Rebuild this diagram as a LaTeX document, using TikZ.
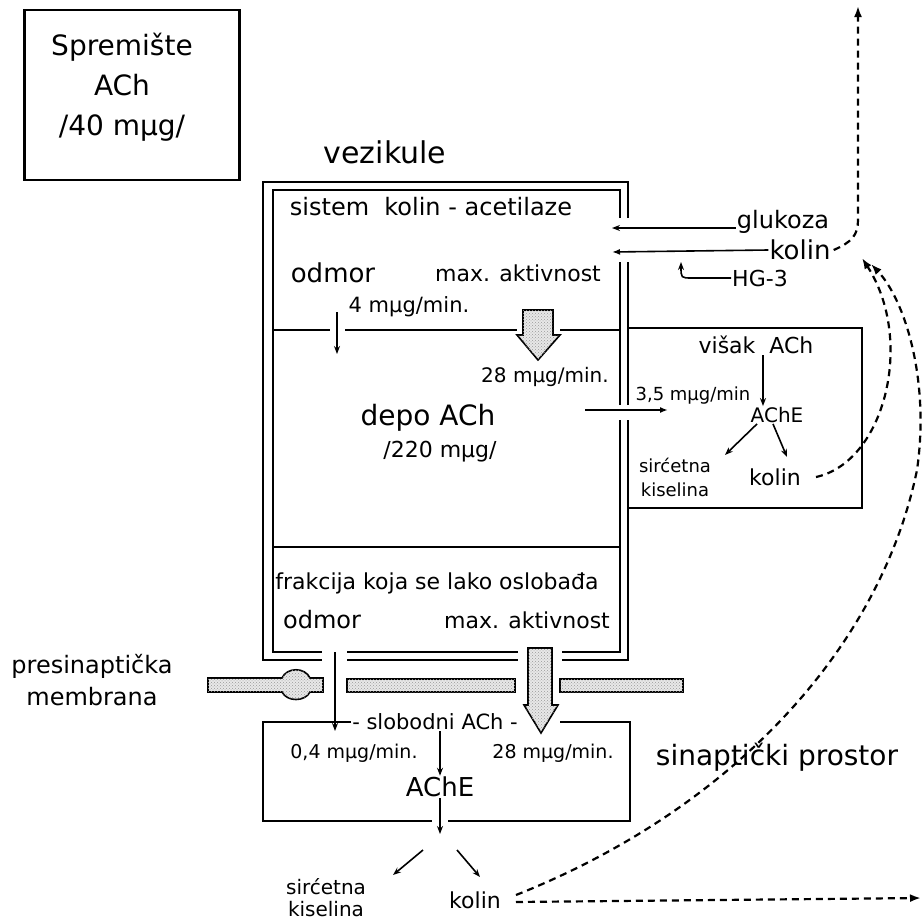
\documentclass[tikz,border=0pt]{standalone}
\usepackage{fontspec}
\setmainfont{DejaVu Sans}
\usetikzlibrary{arrows.meta,calc,patterns}

\begin{document}
\begin{tikzpicture}[
    x=1pt, y=-1pt,
    boxline/.style={line width=2.2pt},
    thinarrow/.style={
      -{Stealth[length=8pt,width=6pt]},
      line width=1.6pt
    },
    openarrow/.style={
      -{Latex[open,length=8pt,width=6pt]},
      line width=1.6pt
    },
    dashflow/.style={
      -{Latex[length=11pt,width=8pt]},
      line width=2.2pt,
      dash pattern=on 7pt off 5pt
    },
    stipple/.style={
      draw,
      line width=1.6pt,
      fill=gray!18,
      postaction={pattern=crosshatch dots, pattern color=gray!80}
    },
    txt/.style={inner sep=1pt, align=center, font=\fontsize{#1}{#1}\selectfont}
  ]
  \useasboundingbox (0,0) rectangle (922,921);

  % spremiste
  \node[draw, boxline, minimum width=215pt, minimum height=170pt] (store) at (132,95) {};
  \node[txt=28] (storeTxt) at (122,87) {Spremište\\[12pt]ACh\\[12pt]/40 mμg/};

  \node[txt=30] (vez) at (385,152) {vezikule};

  % vezikula - dvostruki okvir
  \draw[boxline] (628,218) -- (628,182) -- (263,182) -- (263,660) -- (322,660);
  \draw[boxline] (347,660) -- (518,660);
  \draw[boxline] (562,660) -- (628,660) -- (628,420);
  \draw[boxline] (628,405) -- (628,262);
  \draw[boxline] (620,218) -- (620,190) -- (273,190) -- (273,652) -- (322,652);
  \draw[boxline] (347,652) -- (518,652);
  \draw[boxline] (562,652) -- (620,652) -- (620,420);
  \draw[boxline] (620,405) -- (620,262);

  % pregrade
  \draw[boxline] (273,330) -- (330,330);
  \draw[boxline] (345,330) -- (517,330);
  \draw[boxline] (560,330) -- (620,330);
  \draw[boxline] (273,547) -- (620,547);

  % gornji dio
  \node[txt=24] (sys) at (431,207) {sistem\ \ kolin - acetilaze};
  \node[txt=26] (restTop) at (333,273) {odmor};
  \node[txt=22] (maxTop) at (518,273) {max. aktivnost};
  \node[txt=21] (rate4) at (409,307) {4 mμg/min.};
  \node[txt=20] (rate28a) at (545,377) {28 mμg/min.};
  \coordinate (restA) at (337,312);
  \coordinate (restB) at (337,354);
  \draw[thinarrow] (restA) -- (restB);
  \draw[stipple] (523,310) -- (553,310) -- (553,335) -- (560,335) -- (538,360)
    -- (517,335) -- (523,335) -- cycle;

  % depo
  \node[txt=28] (depo) at (428,418) {depo ACh};
  \node[txt=22] (depoAmt) at (440,452) {/220 mμg/};

  % frakcija
  \node[txt=22] (frac) at (437,583) {frakcija koja se lako oslobađa};
  \node[txt=24] (restLow) at (322,620) {odmor};
  \node[txt=22] (maxLow) at (527,620) {max. aktivnost};

  % ulaz glukoze i kolina
  \node[txt=24] (gluc) at (783,222) {glukoza};
  \node[txt=26] (kolinTop) at (800,250) {kolin};
  \node[txt=22] (hg) at (760,278) {HG-3};
  \draw[thinarrow] ([yshift=-6pt]gluc.west) -- (612,228);
  \draw[openarrow] (kolinTop.west) -- (612,252);
  \draw[thinarrow] (hg.west) -- (692,278) .. controls (681,278) .. (681,262);

  % visak ACh
  \draw[boxline] (628,328) -- (862,328) -- (862,508) -- (628,508);
  \node[txt=22] (visak) at (756,345) {višak\ \ ACh};
  \node[txt=18] (rate35) at (693,396) {3,5 mμg/min};
  \node[txt=20] (acheUp) at (777,415) {AChE};
  \node[txt=18] (kisUp) at (675,477) {sirćetna\\[6pt]kiselina};
  \node[txt=22] (kolinUp) at (775,477) {kolin};
  \coordinate (excessA) at (585,410);
  \coordinate (excessB) at (668,410);
  \draw[openarrow] (excessA) -- (excessB);
  \draw[thinarrow] ([xshift=-14pt]visak.south -| acheUp.north) -- ([xshift=-14pt]acheUp.north);
  \draw[thinarrow] ([xshift=-20pt]acheUp.south) -- (725,455);
  \draw[thinarrow] ([xshift=-4pt]acheUp.south) -- (787,457);

  % membrana
  \draw[stipple] (208,678) -- (282,678) .. controls (287,667) and (305,667) .. (310,678)
    -- (323,678) -- (323,692) -- (310,692) .. controls (305,702) and (287,702) .. (282,692)
    -- (208,692) -- cycle;
  \draw[stipple] (347,679) rectangle (515,692);
  \draw[stipple] (560,679) rectangle (683,692);
  \node[txt=24] (membr) at (92,680) {presinaptička\\[8pt]membrana};

  % slobodni ACh
  \coordinate (restC) at (335,652);
  \coordinate (restD) at (335,731);
  \draw[thinarrow] (restC) -- (restD);
  \draw[stipple] (528,648) -- (552,648) -- (552,705) -- (558,705) -- (541,733)
    -- (524,705) -- (528,705) -- cycle;
  \node[txt=21] (slob) at (435,722) {- slobodni ACh -};
  \draw[boxline] (slob.west) -- (263,722) -- (263,821) -- (432,821);
  \draw[boxline] (448,821) -- (630,821) -- (630,722) -- (560,722);
  \node[txt=19] (rate04) at (354,753) {0,4 mμg/min.};
  \node[txt=19] (rate28b) at (553,753) {28 mμg/min.};
  \node[txt=26] (acheLow) at (440,787) {AChE};
  \coordinate (splitLow) at (440,834);
  \draw[thinarrow] (slob.south -| acheLow.north) -- (acheLow.north);
  \draw[thinarrow] (acheLow.south) -- (splitLow);
  \node[txt=20] (kisLow) at (326,898) {sirćetna\\[2pt]kiselina};
  \node[txt=22] (kolinLow) at (475,900) {kolin};
  \coordinate (sLa) at (423,850);
  \coordinate (sLb) at (393,875);
  \coordinate (sRa) at (457,850);
  \coordinate (sRb) at (480,877);
  \draw[thinarrow] (sLa) -- (sLb);
  \draw[thinarrow] (sRa) -- (sRb);

  \node[txt=28] (space) at (777,757) {sinaptički prostor};

  % povrat kolina
  \coordinate (outTop) at (858,6);
  \coordinate (inTipA) at (862,258);
  \coordinate (inTipB) at (871,264);
  \coordinate (outRight) at (921,898);
  \draw[dashflow] ([xshift=2pt]kolinTop.east) .. controls (852,242) and (858,235) .. (858,220) -- (outTop);
  \draw[dashflow] ([xshift=14pt]kolinUp.east) .. controls (885,462) and (915,340) .. (inTipA);
  \draw[dashflow] ([xshift=14pt,yshift=5pt]kolinLow.east) .. controls (730,810) and (880,650) .. (917,470)
    .. controls (930,380) and (905,300) .. (inTipB);
  \draw[dashflow] ([xshift=14pt,yshift=-2pt]kolinLow.east) -- (outRight);

\end{tikzpicture}
\end{document}
